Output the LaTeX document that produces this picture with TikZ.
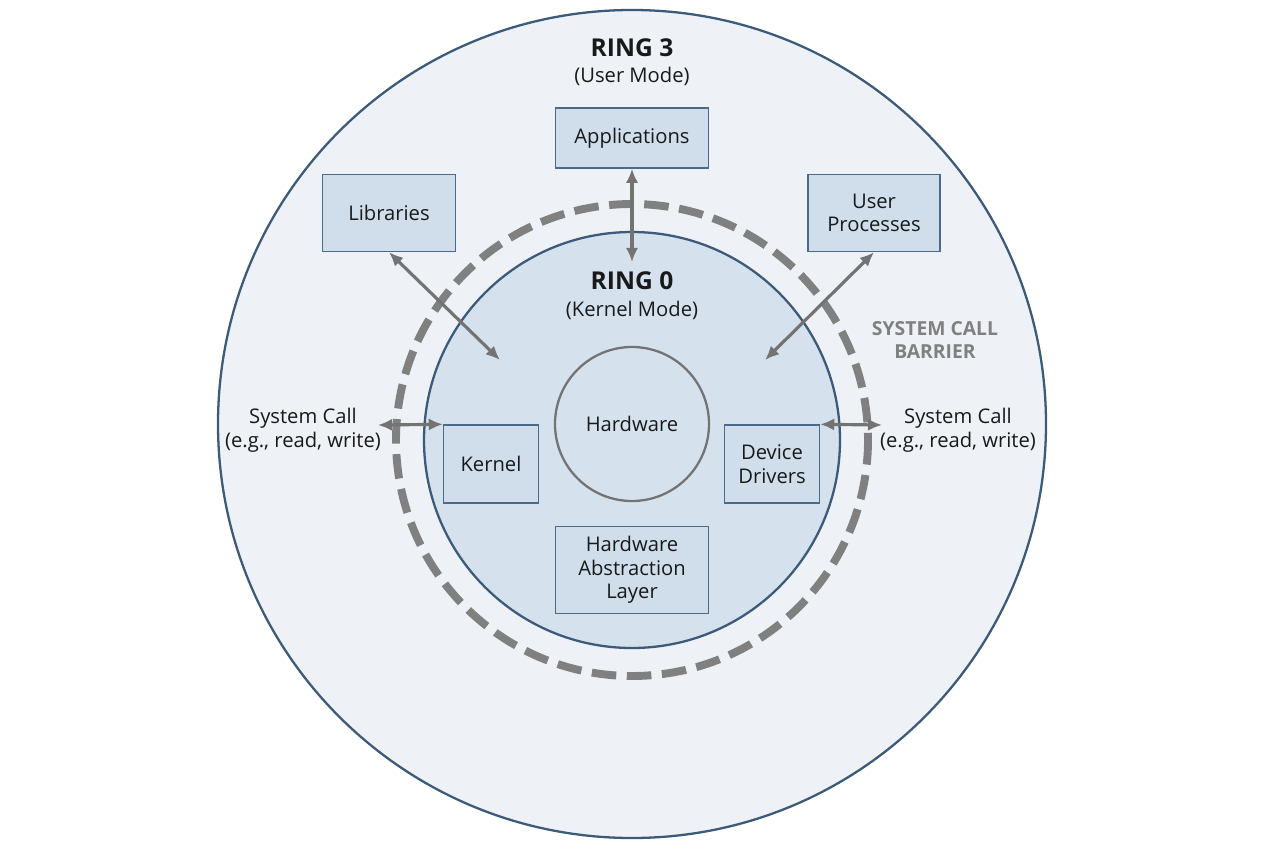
\documentclass[tikz,border=0pt]{standalone}
\usepackage{fontspec}
\setmainfont{Open Sans}
\definecolor{ringline}{RGB}{60,90,122}
\definecolor{userfill}{RGB}{238,242,246}
\definecolor{kernfill}{RGB}{213,226,238}
\definecolor{boxfill}{RGB}{208,222,235}
\definecolor{boxline}{RGB}{74,106,138}
\definecolor{barrier}{RGB}{128,128,128}
\usetikzlibrary{arrows.meta,positioning}

\begin{document}
\begin{tikzpicture}[x=0.02cm, y=-0.02cm, every node/.style={font=\fontsize{11.5}{13.5}\selectfont, text=black!90},
    part/.style={draw=boxline, thick, fill=boxfill, align=center, inner sep=2pt},
    link/.style={{Latex[length=8pt,width=7pt]}-{Latex[length=8pt,width=7pt]}, line width=1.8pt, draw=black!55}]
    \useasboundingbox (0,0) rectangle (1264,848);
    % Rings
    \draw[ringline, line width=1.3pt, fill=userfill] (632,424) circle (414);
    \draw[barrier, line width=4.5pt, dash pattern=on 14pt off 6pt] (632,440) circle (236);
    \draw[ringline, line width=1.3pt, fill=kernfill] (632,440) circle (208);
    \node[draw=black!55, line width=1.3pt, circle, minimum size=154*0.02cm, fill=kernfill] (hw) at (632,424) {Hardware};

    % Ring titles
    \node[font=\fontsize{14}{16}\selectfont\bfseries] (r3) at (632,48) {RING 3};
    \node (r3m) at (632,76) {(User Mode)};
    \node[font=\fontsize{14}{16}\selectfont\bfseries] (r0) at (632,281) {RING 0};
    \node (r0m) at (632,310) {(Kernel Mode)};
    \node[font=\fontsize{11}{13.5}\selectfont\bfseries, text=barrier, align=center] (bar) at (935,340) {SYSTEM CALL\\BARRIER};

    % User boxes
    \node[part, minimum width=153*0.02cm, minimum height=60*0.02cm] (apps) at (632,138) {Applications};
    \node[part, minimum width=133*0.02cm, minimum height=77*0.02cm] (libs) at (389,213) {Libraries};
    \node[part, minimum width=132*0.02cm, minimum height=77*0.02cm] (uproc) at (874,213) {User\\Processes};

    % Kernel boxes
    \node[part, minimum width=95*0.02cm, minimum height=78*0.02cm] (kern) at (491,464) {Kernel};
    \node[part, minimum width=95*0.02cm, minimum height=78*0.02cm] (drv) at (772,464) {Device\\Drivers};
    \node[part, minimum width=153*0.02cm, minimum height=87*0.02cm] (hal) at (632,570) {Hardware\\Abstraction\\Layer};

    % System call labels
    \node[align=center] (scl) at (303,430) {System Call\\(e.g., read, write)};
    \node[align=center] (scr) at (958,430) {System Call\\(e.g., read, write)};

    % Arrows
    \coordinate (appsEnd) at (632,262);
    \coordinate (libsEnd) at (500,360);
    \coordinate (uprocEnd) at (765,360);
    \coordinate (sclEnd) at (378,425);
    \coordinate (scrEnd) at (882,425);
    \draw[link] (apps.south) -- (appsEnd);
    \draw[link] (libs.south) -- (libsEnd);
    \draw[link] (uproc.south) -- (uprocEnd);
    \draw[link] (sclEnd) -- (kern.north west);
    \draw[link] (drv.north east) -- (scrEnd);
\end{tikzpicture}
\end{document}
